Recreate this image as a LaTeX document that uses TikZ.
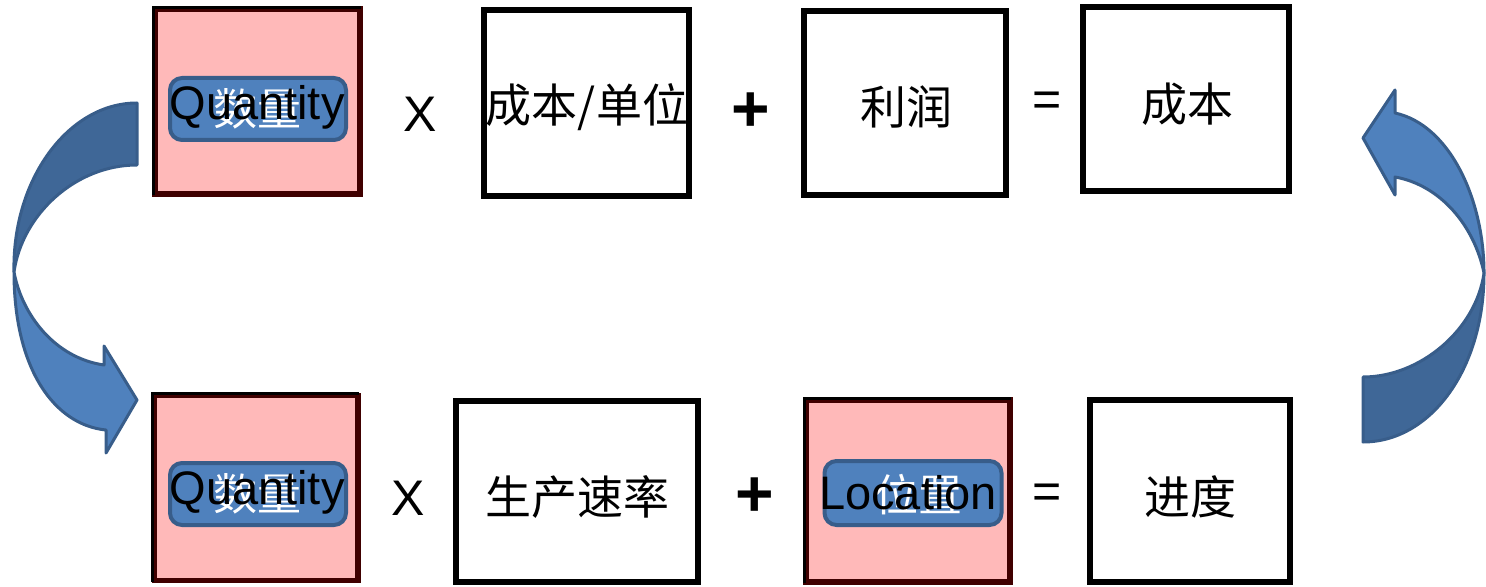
\documentclass[tikz,border=0pt]{standalone}
\usepackage{fontspec}
\setmainfont{Liberation Sans}
\newfontfamily\cjk{Noto Sans CJK SC}
\definecolor{pinkfill}{RGB}{255,185,185}
\definecolor{darkred}{RGB}{64,0,0}
\definecolor{lblue}{RGB}{79,129,189}
\definecolor{dblue}{RGB}{63,103,151}
\definecolor{sblue}{RGB}{56,93,138}
\tikzset{
  wbox/.style={draw=black,line width=3pt,fill=white},
  pbox/.style={draw=darkred,line width=2.75pt,fill=pinkfill},
  lbl/.style={draw=sblue,line width=2pt,fill=lblue,rounded corners=6pt,inner sep=0pt},
  entxt/.style={font=\fontsize{23.5}{23.5}\selectfont,text=black,inner sep=0pt},
  cntxt/.style={font=\cjk\fontsize{23}{23}\selectfont,text=black,inner sep=0pt},
  wctxt/.style={font=\cjk\fontsize{22}{22}\selectfont,text=white,inner sep=0pt},
  optxt/.style={font=\fontsize{25}{25}\selectfont,inner sep=0pt},
  plustxt/.style={font=\bfseries\fontsize{33}{33}\selectfont,inner sep=0pt},
  arrowline/.style={draw=sblue,line width=1.5pt,line join=round}
}
\begin{document}
\begin{tikzpicture}[x=0.5pt,y=-0.5pt]
\useasboundingbox (0,0) rectangle (1486,587);
% ---- curved arrows ----
\filldraw[arrowline,fill=dblue] (137,103) .. controls (68,103) and (12,180) .. (14,272)
   .. controls (22,215) and (75,165) .. (137,165) -- cycle;
\filldraw[arrowline,fill=lblue] (14,272) .. controls (14,370) and (55,425) .. (106,430)
   -- (106,453) -- (137,400) -- (104,346) -- (104,365)
   .. controls (55,358) and (22,315) .. (14,272) -- cycle;
\filldraw[arrowline,fill=lblue] (1484,273) .. controls (1484,200) and (1450,125) .. (1395,113)
   -- (1395,90) -- (1363,138) -- (1395,195) -- (1395,177)
   .. controls (1440,185) and (1474,225) .. (1484,273) -- cycle;
\filldraw[arrowline,fill=dblue] (1484,273) .. controls (1484,370) and (1430,442) .. (1363,442)
   -- (1363,377) .. controls (1420,377) and (1476,330) .. (1484,273) -- cycle;
% ---- top row ----
\path[pbox] (155,9) rectangle (360,194);
\draw[black,line width=1.5pt] (153.5,195) -- (153.5,7.5) -- (361,7.5);
\node[lbl,minimum width=88pt,minimum height=31pt] (q1) at (258,109) {};
\node[wctxt] (q1c) at (257,109) {数量};
\node[entxt] (q1t) at (257,107) {Quantity};
\node[optxt] (x1) at (420,114) {X};
\path[wbox] (484,10) rectangle (689,196);
\node[cntxt] (t2) at (587,107) {成本/单位};
\node[plustxt] (p1) at (751,112) {+};
\path[wbox] (804,11) rectangle (1006,195);
\node[cntxt] (t3) at (906,107) {利润};
\node[optxt] (e1) at (1047,104) {=};
\path[wbox] (1083,7) rectangle (1289,191);
\node[cntxt] (t4) at (1187,104) {成本};
% ---- bottom row ----
\path[pbox] (154.5,395.5) rectangle (358,580.5);
\draw[black,line width=1.5pt] (152.5,582) -- (152.5,393.5) -- (359,393.5);
\node[lbl,minimum width=88pt,minimum height=31pt] (q5) at (258,494) {};
\node[wctxt] (q5c) at (257,494) {数量};
\node[entxt] (q5t) at (257,492) {Quantity};
\node[optxt] (x2) at (408,498) {X};
\path[wbox] (456,401) rectangle (698,582);
\node[cntxt] (t6) at (577,497) {生产速率};
\node[plustxt] (p2) at (755,497) {+};
\path[pbox] (806,400) rectangle (1010,582);
\draw[black,line width=1.5pt] (804.5,583) -- (804.5,398.5) -- (1011,398.5);
\node[lbl,minimum width=88.5pt,minimum height=32pt] (q7) at (913,493) {};
\node[wctxt] (q7c) at (918,495) {位置};
\node[entxt] (q7t) at (908,493) {Location};
\node[optxt] (e2) at (1047,496) {=};
\path[wbox] (1090,400) rectangle (1290,582);
\node[cntxt] (t8) at (1190,497) {进度};
\end{tikzpicture}
\end{document}
